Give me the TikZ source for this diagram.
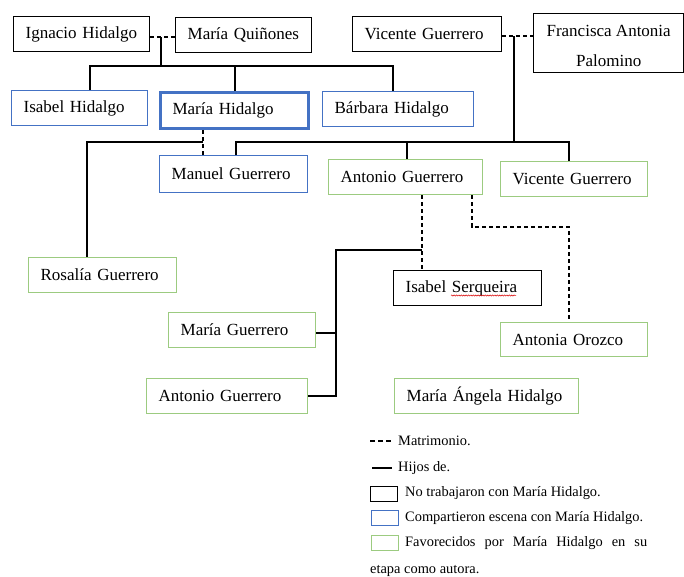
\documentclass[tikz,border=0pt]{standalone}
\usepackage{fontspec}
\setmainfont{Liberation Serif}
\usetikzlibrary{decorations.pathmorphing}
\definecolor{wblue}{HTML}{4472C4}
\definecolor{wgreen}{HTML}{9CCB80}
\tikzset{
  person/.style={draw, line width=1.3pt, anchor=north west, inner xsep=12pt, inner ysep=0pt,
     align=left, font=\fontsize{17}{20}\selectfont},
  bk/.style={person, draw=black},
  bl/.style={person, draw=wblue},
  gr/.style={person, draw=wgreen},
  marr/.style={draw=black, line width=1.3pt, dash pattern=on 4pt off 3pt},
  child/.style={draw=black, line width=2.3pt},
  legtext/.style={anchor=west, inner sep=0pt, font=\fontsize{14.4}{17}\selectfont},
  legbox/.style={draw, line width=1.3pt, anchor=north west, minimum width=27pt, minimum height=15pt, inner sep=0pt}
}
\begin{document}
\begin{tikzpicture}[x=1pt,y=-1pt]
\useasboundingbox (0,0) rectangle (684,576);
% people
\node[bk, text width=112pt, minimum height=35pt] (ih) at (13,16) {Ignacio Hidalgo};
\node[bk, text width=112pt, minimum height=35pt] (mq) at (175,17) {María Quiñones};
\node[bk, text width=125pt, minimum height=35pt] (vg1) at (352,16) {Vicente Guerrero};
\node[bk, minimum width=150pt, minimum height=59pt, inner sep=0pt] (fap) at (533,13) {};
\node[align=center, inner sep=0pt, yshift=-3pt, font=\fontsize{17}{30}\selectfont] (fapt) at (fap.center) {Francisca Antonia\\Palomino};
\node[bl, text width=112pt, minimum height=35pt] (isa) at (11,90) {Isabel Hidalgo};
\node[bl, text width=124pt, minimum height=36pt, line width=3pt] (mh) at (159,91) {María Hidalgo};
\node[bl, text width=127pt, minimum height=35pt] (bh) at (322,91) {Bárbara Hidalgo};
\node[bl, text width=124pt, minimum height=37pt] (mg1) at (159,155) {Manuel Guerrero};
\node[gr, text width=130pt, minimum height=35pt] (ag1) at (328,159) {Antonio Guerrero};
\node[gr, text width=123pt, minimum height=35pt] (vg2) at (500,161) {Vicente Guerrero};
\node[gr, text width=124pt, minimum height=35pt] (rg) at (28,257) {Rosalía Guerrero};
\node[bk, text width=124pt, minimum height=35pt] (is) at (393,270) {Isabel Serqueira};
\node[gr, text width=123pt, minimum height=35pt] (mgu) at (168,312) {María Guerrero};
\node[gr, text width=137pt, minimum height=35pt] (ag2) at (146,378) {Antonio Guerrero};
\node[gr, text width=123pt, minimum height=34pt] (ao) at (500,322) {Antonia Orozco};
\node[gr, text width=160pt, minimum height=35pt] (mah) at (394,378) {María Ángela Hidalgo};
% spell-check underline
\draw[red!85!black, line width=0.5pt, decorate, decoration={snake, amplitude=0.6pt, segment length=2.4pt}] (451,295.5) -- (516,295.5);
% Ignacio + María Quiñones
\coordinate (m1) at (161,37);
\coordinate (b1) at (161,66);
\coordinate (s1) at (90,66);
\coordinate (s2) at (235,66);
\coordinate (s3) at (393,66);
\draw[marr] (m1 -| ih.east) -- (m1 -| mq.west);
\draw[child] (m1) -- (b1);
\draw[child] (s1 |- isa.north) -- (s1) -- (s3) -- (s3 |- bh.north);
\draw[child] (s2) -- (s2 |- mh.north);
% Vicente + Francisca
\coordinate (m2) at (514,36);
\coordinate (b2) at (514,142);
\coordinate (s4) at (236,142);
\coordinate (s5) at (407,142);
\coordinate (s6) at (569,142);
\draw[marr] (m2 -| vg1.east) -- (m2 -| fap.west);
\draw[child] (m2) -- (b2);
\draw[child] (s4 |- mg1.north) -- (s4) -- (s6) -- (s6 |- vg2.north);
\draw[child] (s5) -- (s5 |- ag1.north);
% María Hidalgo + Manuel
\coordinate (m3) at (203,142);
\coordinate (s7) at (87,142);
\draw[marr] (m3 |- mh.south) -- (m3 |- mg1.north);
\draw[child] (m3) -- (s7) -- (s7 |- rg.north);
% Antonio + Isabel Serqueira
\coordinate (m4) at (422,250);
\coordinate (s8) at (336,250);
\coordinate (s9) at (336,333);
\draw[marr] (m4 |- ag1.south) -- (m4 |- is.north);
\draw[child] (m4) -- (s8) -- (s8 |- ag2.east) -- (ag2.east);
\draw[child] (s9) -- (s9 -| mgu.east);
% Antonio + Antonia Orozco
\coordinate (m5) at (472,227);
\coordinate (m6) at (569,227);
\draw[marr] (m5 |- ag1.south) -- (m5) -- (m6) -- (m6 |- ao.north);
% legend
\coordinate (l1a) at (370,441);
\coordinate (l1b) at (392,441);
\draw[marr, dash pattern=on 5pt off 3pt] (l1a) -- (l1b);
\node[legtext] (lt1) at (398,441) {Matrimonio.};
\coordinate (l2a) at (372,468);
\coordinate (l2b) at (392,468);
\draw[child] (l2a) -- (l2b);
\node[legtext] (lt2) at (398,468) {Hijos de.};
\node[legbox, draw=black] (lb1) at (370,486) {};
\node[legtext] (lt3) at (405,493.5) {No trabajaron con María Hidalgo.};
\node[legbox, draw=wblue] (lb2) at (371,510) {};
\node[legtext] (lt4) at (405,518) {Compartieron escena con María Hidalgo.};
\node[legbox, draw=wgreen] (lb3) at (371,535) {};
\node[legtext] (lt5) at (405,543) {\makebox[242pt][s]{Favorecidos por María Hidalgo en su}};
\node[legtext] (lt6) at (370,571) {etapa como autora.};
\end{tikzpicture}
\end{document}
